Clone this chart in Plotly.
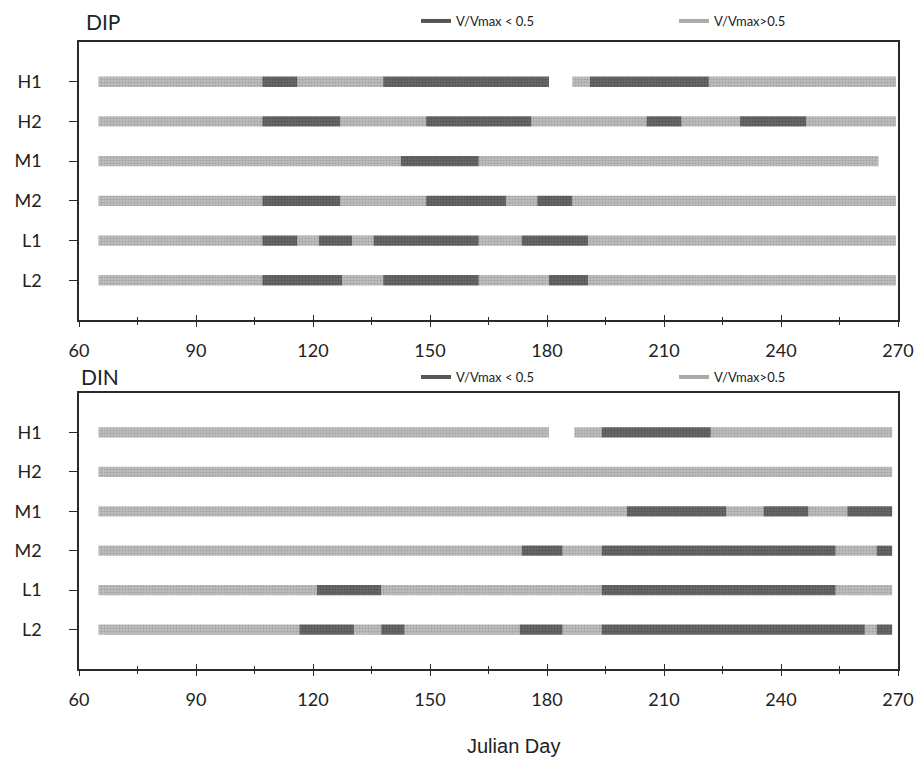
import plotly.graph_objects as go

# Station rows, top to bottom
ROWS = ["H1", "H2", "M1", "M2", "L1", "L2"]
ROW_POS = [5, 4, 3, 2, 1, 0]
X_TICKS = [60, 90, 120, 150, 180, 210, 240, 270]

# Each row: segment boundaries (Julian day) and the state of each segment
# "lo" = V/Vmax < 0.5, "hi" = V/Vmax > 0.5, None = no data
DIP_H1_EDGES = [65, 107, 116, 138, 180.5, 186.5, 191, 221.5, 269.5]
DIP_H1_STATE = ["hi", "lo", "hi", "lo", None, "hi", "lo", "hi"]
DIP_H2_EDGES = [65, 107, 127, 149, 176, 205.5, 214.5, 229.5, 246.5, 269.5]
DIP_H2_STATE = ["hi", "lo", "hi", "lo", "hi", "lo", "hi", "lo", "hi"]
DIP_M1_EDGES = [65, 142.5, 162.5, 265]
DIP_M1_STATE = ["hi", "lo", "hi"]
DIP_M2_EDGES = [65, 107, 127, 149, 169.5, 177.5, 186.5, 269.5]
DIP_M2_STATE = ["hi", "lo", "hi", "lo", "hi", "lo", "hi"]
DIP_L1_EDGES = [65, 107, 116, 121.5, 130, 135.5, 162.5, 173.5, 190.5, 269.5]
DIP_L1_STATE = ["hi", "lo", "hi", "lo", "hi", "lo", "hi", "lo", "hi"]
DIP_L2_EDGES = [65, 107, 127.5, 138, 162.5, 180.5, 190.5, 269.5]
DIP_L2_STATE = ["hi", "lo", "hi", "lo", "hi", "lo", "hi"]

DIN_H1_EDGES = [65, 180.5, 187, 194, 222, 268.5]
DIN_H1_STATE = ["hi", None, "hi", "lo", "hi"]
DIN_H2_EDGES = [65, 268.5]
DIN_H2_STATE = ["hi"]
DIN_M1_EDGES = [65, 200.5, 226, 235.5, 247, 257, 268.5]
DIN_M1_STATE = ["hi", "lo", "hi", "lo", "hi", "lo"]
DIN_M2_EDGES = [65, 173.5, 184, 194, 254, 264.5, 268.5]
DIN_M2_STATE = ["hi", "lo", "hi", "lo", "hi", "lo"]
DIN_L1_EDGES = [65, 121, 137.5, 194, 254, 268.5]
DIN_L1_STATE = ["hi", "lo", "hi", "lo", "hi"]
DIN_L2_EDGES = [65, 116.5, 130.5, 137.5, 143.5, 173, 184, 194, 261.5, 264.5, 268.5]
DIN_L2_STATE = ["hi", "lo", "hi", "lo", "hi", "lo", "hi", "lo", "hi", "lo"]

DIP_ROWS = [(DIP_H1_EDGES, DIP_H1_STATE), (DIP_H2_EDGES, DIP_H2_STATE),
            (DIP_M1_EDGES, DIP_M1_STATE), (DIP_M2_EDGES, DIP_M2_STATE),
            (DIP_L1_EDGES, DIP_L1_STATE), (DIP_L2_EDGES, DIP_L2_STATE)]
DIN_ROWS = [(DIN_H1_EDGES, DIN_H1_STATE), (DIN_H2_EDGES, DIN_H2_STATE),
            (DIN_M1_EDGES, DIN_M1_STATE), (DIN_M2_EDGES, DIN_M2_STATE),
            (DIN_L1_EDGES, DIN_L1_STATE), (DIN_L2_EDGES, DIN_L2_STATE)]

LO_NAME = "V/Vmax < 0.5"
HI_NAME = "V/Vmax>0.5"

FONT = "Lato, 'Open Sans', sans-serif"
AXIS_COLOR = "#2a2a2a"

STYLE = {
    "lo": dict(color="#686868", pattern=dict(shape=".", fgcolor="#3a3a3a", size=3, solidity=0.35)),
    "hi": dict(color="#bdbdbd", pattern=dict(shape=".", fgcolor="#858585", size=3, solidity=0.35)),
}


def collect(rows):
    out = {"lo": ([], [], []), "hi": ([], [], [])}
    for pos, (edges, states) in zip(ROW_POS, rows):
        for i, st in enumerate(states):
            if st is None:
                continue
            ys, xs, bases = out[st]
            ys.append(pos)
            bases.append(edges[i])
            xs.append(edges[i + 1] - edges[i])
    return out


fig = go.Figure()

panels = [("x", "y", DIP_ROWS, "legend"), ("x2", "y2", DIN_ROWS, "legend2")]
for xa, ya, rows, leg in panels:
    segs = collect(rows)
    for st in ["hi", "lo"]:
        ys, xs, bases = segs[st]
        fig.add_trace(go.Bar(
            orientation="h", y=ys, x=xs, base=bases, width=0.26,
            marker=dict(color=STYLE[st]["color"], pattern=STYLE[st]["pattern"],
                        line=dict(width=0)),
            xaxis=xa, yaxis=ya, showlegend=False, hoverinfo="skip",
        ))
    # legend samples
    fig.add_trace(go.Scatter(x=[None], y=[None], mode="lines", name=LO_NAME,
                             line=dict(color="#555555", width=4),
                             xaxis=xa, yaxis=ya, legend=leg))
    fig.add_trace(go.Scatter(x=[None], y=[None], mode="lines", name=HI_NAME,
                             line=dict(color="#aaaaaa", width=4),
                             xaxis=xa, yaxis=ya, legend=leg))

top_dom = [0.5812, 0.9450]
bot_dom = [0.1243, 0.4856]

xbase = dict(
    range=[60, 270], tickmode="array", tickvals=X_TICKS,
    ticks="outside", ticklen=5, tickwidth=1.3, tickcolor=AXIS_COLOR,
    minor=dict(dtick=15, tick0=60, ticks="outside", ticklen=3, tickwidth=1.2,
               tickcolor=AXIS_COLOR, showgrid=False),
    showline=True, linecolor=AXIS_COLOR, linewidth=1.5, mirror=True,
    showgrid=False, zeroline=False,
    tickfont=dict(family=FONT, size=18, color="#222"),
    ticklabelstandoff=9,
)
# inner half of the crossing tick marks
xinner = dict(
    range=[60, 270], tickmode="array", tickvals=X_TICKS,
    ticks="inside", ticklen=5, tickwidth=1.3, tickcolor=AXIS_COLOR,
    minor=dict(dtick=15, tick0=60, ticks="inside", ticklen=3, tickwidth=1.2,
               tickcolor=AXIS_COLOR, showgrid=False),
    showline=False, showgrid=False, zeroline=False, showticklabels=False,
)
ybase = dict(
    range=[-1.0, 6.0], tickmode="array", tickvals=ROW_POS, ticktext=ROWS,
    ticks="outside", ticklen=8, tickwidth=1.3, tickcolor=AXIS_COLOR,
    showline=True, linecolor=AXIS_COLOR, linewidth=1.5, mirror=True,
    showgrid=False, zeroline=False,
    tickfont=dict(family=FONT, size=18, color="#222"),
    ticklabelstandoff=24,
)

legbase = dict(
    orientation="h", xref="paper", yref="paper", xanchor="left", yanchor="middle",
    font=dict(family=FONT, size=13, color="#222"), bgcolor="rgba(0,0,0,0)",
    entrywidth=213, entrywidthmode="pixels", itemclick=False, itemdoubleclick=False,
)

fig.update_layout(
    width=917, height=764,
    margin=dict(l=79, r=19, t=0, b=0, autoexpand=False),
    paper_bgcolor="white", plot_bgcolor="white",
    barmode="overlay",
    xaxis=dict(**xbase, domain=[0, 1], anchor="y"),
    yaxis=dict(**ybase, domain=top_dom, anchor="x"),
    xaxis2=dict(**xbase, domain=[0, 1], anchor="y2"),
    yaxis2=dict(**ybase, domain=bot_dom, anchor="x2"),
    xaxis3=dict(**xinner, overlaying="x", anchor="y", side="bottom"),
    xaxis4=dict(**xinner, overlaying="x2", anchor="y2", side="bottom"),
    legend=dict(**legbase, x=(416 - 79) / 819, y=1 - 21 / 764),
    legend2=dict(**legbase, x=(416 - 79) / 819, y=1 - 377 / 764),
    annotations=[
        dict(text="DIP", xref="paper", yref="paper", x=0.006, y=1 - 22 / 764,
             xanchor="left", yanchor="middle", showarrow=False,
             font=dict(family=FONT, size=21, color="#222")),
        dict(text="DIN", xref="paper", yref="paper", x=0.0, y=1 - 376 / 764,
             xanchor="left", yanchor="middle", showarrow=False,
             font=dict(family=FONT, size=21, color="#222")),
        dict(text="Julian Day", xref="paper", yref="paper", x=0.53, y=1 - 746 / 764,
             xanchor="center", yanchor="middle", showarrow=False,
             font=dict(family="'Liberation Sans', Arial, sans-serif", size=20, color="#222")),
    ],
)

# bind the inner-tick axes to a trace each so they render
fig.add_trace(go.Scatter(x=[None], y=[None], xaxis="x3", yaxis="y", showlegend=False))
fig.add_trace(go.Scatter(x=[None], y=[None], xaxis="x4", yaxis="y2", showlegend=False))

fig.write_html("out.html")
